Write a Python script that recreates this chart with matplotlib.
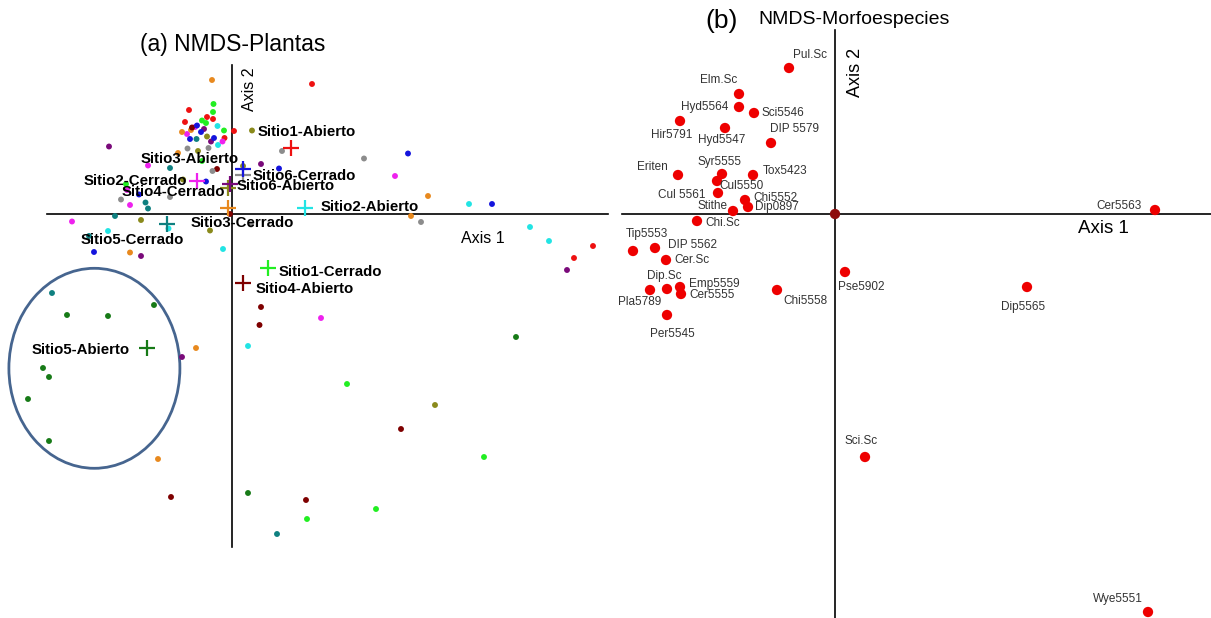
import matplotlib
matplotlib.use("Agg")
import matplotlib.pyplot as plt
from matplotlib.patches import Ellipse

plt.rcParams["font.family"] = ["Liberation Sans", "DejaVu Sans"]

# ---------------- (a) NMDS of plant communities ----------------
site_names = ["Sitio1-Abierto", "Sitio1-Cerrado", "Sitio2-Abierto", "Sitio2-Cerrado",
              "Sitio3-Abierto", "Sitio3-Cerrado", "Sitio4-Abierto", "Sitio4-Cerrado",
              "Sitio5-Abierto", "Sitio5-Cerrado", "Sitio6-Abierto", "Sitio6-Cerrado"]
site_cx = [0.59, 0.36, 0.73, -0.35, -0.04, -0.04, 0.11, 0.11, -0.85, -0.65, -0.02, 0.11]
site_cy = [0.66, -0.54, 0.06, 0.33, 0.26, 0.055, -0.695, 0.39, -1.335, -0.10, 0.30, 0.45]

# plot scores (x, y) and the site each one belongs to
plot_x = [
    # Sitio1-Abierto
    0.80, -0.43, -0.25, -0.19, -0.47, 0.02, -0.075, 3.61, 3.42,
    # Sitio1-Cerrado
    -0.185, -0.19, -0.30, -0.26, -0.08, -0.30, -1.06, 1.15, 2.52, 1.44, 0.75,
    # Sitio2-Abierto
    -0.145, -0.14, -1.24, -0.635, -0.09, 0.16, 2.37, 2.98, 3.17,
    # Sitio2-Cerrado
    -0.37, -0.45, -0.095, -0.84, -1.05, -1.02, -1.60, 0.89, 1.63,
    # Sitio3-Abierto
    -0.25, 0.20, -0.34, 0.11, -0.49, -0.91, -0.22, 2.03,
    # Sitio3-Cerrado
    -0.20, -0.41, -0.50, -0.54, -1.02, -0.36, -0.74, 1.96, 1.79,
    # Sitio4-Abierto
    -0.40, -0.15, -0.02, 0.29, 0.275, 1.69, -0.61, 0.74,
    # Sitio4-Cerrado
    -0.235, -0.445, -0.195, -0.62, -1.11, 0.50, 1.32, 1.89, 0.19,
    # Sitio5-Abierto
    -0.78, -1.65, -1.24, -1.89, -1.83, -2.04, -1.83, 0.16, 2.84,
    # Sitio5-Cerrado
    -0.355, -0.62, -0.865, -0.84, -1.17, -1.43, -1.80, 0.45,
    # Sitio6-Abierto
    -1.23, -0.28, -0.21, 0.29, -0.91, -0.50, 3.35,
    # Sitio6-Cerrado
    -0.35, -0.31, -0.42, -0.18, -0.26, -0.93, -1.38, 0.47, 1.76, 2.60,
]
plot_y = [
    1.30, 1.04, 0.97, 0.95, 0.92, 0.83, 0.76, -0.32, -0.44,
    1.10, 1.02, 0.935, 0.91, 0.835, 0.53, 0.30, -1.70, -2.43, -2.95, -3.05,
    0.88, 0.69, -0.17, -0.145, -0.35, -1.32, 0.10, -0.13, -0.27,
    0.87, 0.80, 0.725, 0.485, 0.24, 0.09, -0.075, -1.04, 0.38,
    0.775, 0.835, 0.63, 0.48, 0.345, -0.06, -0.165, -1.91,
    1.34, 0.84, 0.82, 0.61, -0.385, -1.34, -2.45, 0.18, -0.02,
    0.865, 0.45, 0.00, -0.93, -1.11, -2.15, -2.83, -2.86,
    0.66, 0.655, 0.43, 0.17, 0.145, 0.63, 0.555, -0.08, -0.105,
    -0.91, -1.01, -1.02, -1.54, -1.63, -1.85, -2.27, -2.79, -1.23,
    0.75, 0.46, 0.115, 0.055, -0.02, -0.22, -0.79, -3.20,
    0.675, 0.85, 0.725, 0.50, -0.42, -1.43, -0.56,
    0.885, 0.82, 0.75, 0.76, 0.325, 0.195, -0.38, 0.455, 0.605, 0.10,
]
plot_site = ([0] * 9 + [1] * 11 + [2] * 9 + [3] * 9 + [4] * 8 + [5] * 9 +
             [6] * 8 + [7] * 9 + [8] * 9 + [9] * 8 + [10] * 7 + [11] * 10)

# ---------------- (b) NMDS of morphospecies ----------------
morpho_names = ["Pul.Sc", "Elm.Sc", "Hyd5564", "Sci5546", "Hir5791", "Hyd5547", "DIP 5579",
                "Eriten", "Syr5555", "Cul5550", "Tox5423", "Cul 5561", "Chi5552", "Dip0897",
                "Stithe", "Chi.Sc", "Tip5553", "DIP 5562", "Cer.Sc", "Dip.Sc", "Pla5789",
                "Emp5559", "Cer5555", "Per5545", "Chi5558", "Pse5902", "Cer5563", "Dip5565",
                "Sci.Sc", "Wye5551"]
morpho_x = [-0.46, -0.96, -0.96, -0.81, -1.55, -1.10, -0.64, -1.57, -1.13, -1.18, -0.82, -1.17,
            -0.90, -0.87, -1.02, -1.38, -2.02, -1.80, -1.69, -1.68, -1.85, -1.55, -1.54, -1.68,
            -0.58, 0.10, 3.20, 1.92, 0.30, 3.13]
morpho_y = [1.46, 1.20, 1.07, 1.01, 0.93, 0.86, 0.71, 0.39, 0.40, 0.33, 0.39, 0.21,
            0.14, 0.07, 0.03, -0.07, -0.37, -0.34, -0.46, -0.75, -0.76, -0.73, -0.80, -1.01,
            -0.76, -0.58, 0.04, -0.73, -2.43, -3.98]

# ---------------- styles and layout ----------------
SITE_COLORS = ["#ee1111", "#22ee22", "#22e4e4", "#ee22ee", "#8a8a1c", "#e8891e",
               "#7e0000", "#8c8c8c", "#177a17", "#0f8080", "#7a0a7a", "#1414dd"]
# site label offsets (pixels; left edge of the text, vertical centre)
SITE_LABEL_OFF = [(-33, 15.5), (10.5, -4.5), (16, 1), (-113, 0), (-87, 29), (-37, -14.5),
                  (12.5, -6), (-121, -17), (-115, -2), (-86, -16), (7, -2.5), (10, -7)]
# morphospecies label offsets (pixels) and alignment
MORPHO_LABEL_OFF = [(21, 13, "center"), (-20, 14, "center"), (-11, 0, "right"), (8, 0, "left"),
                    (-8, -14, "center"), (-3, -12, "center"), (24, 14, "center"),
                    (-26, 8, "center"), (-3, 12, "center"), (25, -5, "center"),
                    (10, 4, "left"), (-12, -2, "right"), (8, 2, "left"), (7, 0, "left"),
                    (-21, 5, "center"), (8, -2, "left"), (14, 17, "center"), (13, 3, "left"),
                    (8, 0, "left"), (-3, 13, "center"), (-10, -12, "center"), (9, 3, "left"),
                    (8, -1, "left"), (5, -19, "center"), (28, -11, "center"),
                    (16, -15, "center"), (-36, 4, "center"), (-4, -20, "center"),
                    (-4, 16, "center"), (-30, 13, "center")]

W, H = 1211, 618
fig = plt.figure(figsize=(W / 100, H / 100), dpi=100)

# left panel: 100 px per unit, origin at pixel (232, 214)
axl = fig.add_axes([0, 0, 615 / W, 1])
axl.set_xlim(-2.32, 3.83)
axl.set_ylim(-4.04, 2.14)
axl.axis("off")
axl.plot([-1.85, 3.76], [0, 0], color="black", lw=1.2, zorder=1)
axl.plot([0, 0], [1.49, -3.33], color="black", lw=1.2, zorder=1)

axl.scatter(plot_x, plot_y, s=18, c=[SITE_COLORS[i] for i in plot_site],
            edgecolors="none", zorder=3)
for i, name in enumerate(site_names):
    axl.plot(site_cx[i], site_cy[i], marker="+", ms=12, mew=1.6,
             color=SITE_COLORS[i], linestyle="none", zorder=4)
    axl.annotate(name, (site_cx[i], site_cy[i]), xytext=SITE_LABEL_OFF[i],
                 textcoords="offset pixels", ha="left", va="center",
                 fontsize=10.8, fontweight="bold", color="black", zorder=5)

axl.add_patch(Ellipse((-1.376, -1.543), 1.71, 2.00, fill=False,
                      edgecolor="#46658f", lw=2.0, zorder=2))
axl.text(2.51, -0.25, "Axis 1", fontsize=11.5, ha="center", va="center")
axl.text(0.18, 1.25, "Axis 2", fontsize=11.5, ha="center", va="center", rotation=90)

# right panel: 100 px per unit, origin at pixel (835, 214)
axr = fig.add_axes([615 / W, 0, 596 / W, 1])
axr.set_xlim(-2.20, 3.76)
axr.set_ylim(-4.04, 2.14)
axr.axis("off")
axr.plot([-2.13, 3.76], [0, 0], color="black", lw=1.2, zorder=1)
axr.plot([0, 0], [1.84, -4.04], color="black", lw=1.2, zorder=1)

axr.scatter(morpho_x, morpho_y, s=55, c="#ee0000", edgecolors="none", zorder=3, clip_on=False)
axr.scatter([0], [0], s=55, c="#8e0d0d", edgecolors="none", zorder=3)
for i, name in enumerate(morpho_names):
    dx, dy, ha = MORPHO_LABEL_OFF[i]
    axr.annotate(name, (morpho_x[i], morpho_y[i]), xytext=(dx, dy),
                 textcoords="offset pixels", ha=ha, va="center",
                 fontsize=8.5, color="#333333", zorder=5)

axr.text(2.68, -0.15, "Axis 1", fontsize=13.5, ha="center", va="center")
axr.text(0.20, 1.42, "Axis 2", fontsize=13, ha="center", va="center", rotation=90)

# panel titles
fig.text(140 / W, 1 - 45 / H, "(a) NMDS-Plantas", fontsize=16.5, ha="left", va="center")
fig.text(705 / W, 1 - 21 / H, "(b)", fontsize=19, ha="left", va="center")
fig.text(758 / W, 1 - 19 / H, "NMDS-Morfoespecies", fontsize=14, ha="left", va="center")

fig.savefig("out.png", dpi=100, facecolor="white")
